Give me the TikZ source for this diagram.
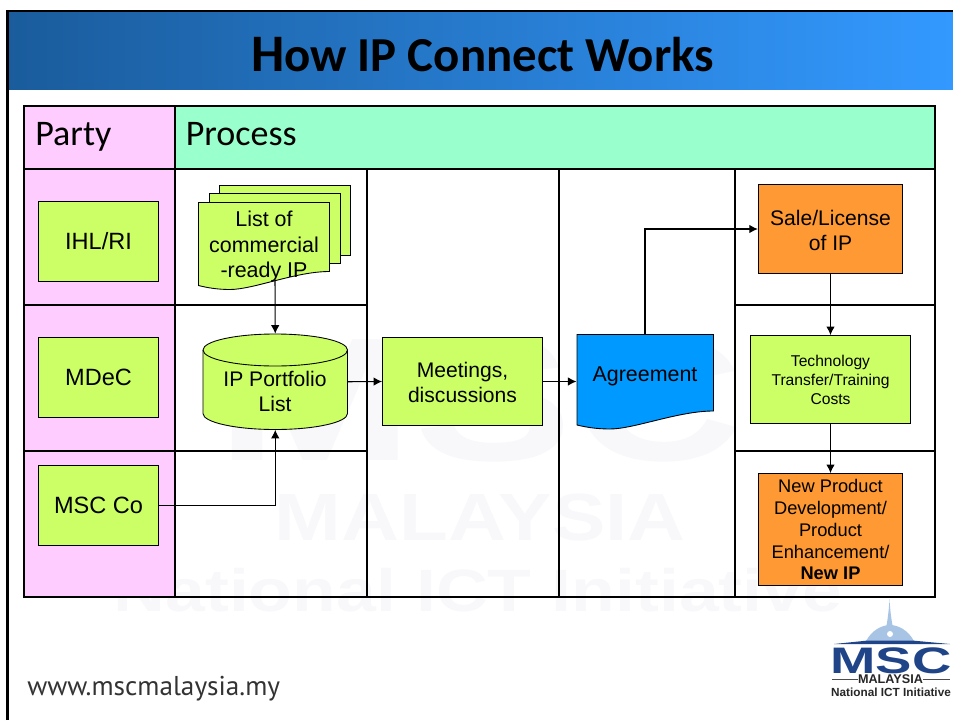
\documentclass[tikz,border=0pt]{standalone}
\usepackage{fontspec}
\setmainfont{Liberation Sans}
\newfontfamily\titlefont{Carlito}
\newfontfamily\urlfont{PT Sans}
\usetikzlibrary{arrows.meta}
\definecolor{limebox}{HTML}{CCFF66}
\definecolor{orangebox}{HTML}{FF9933}
\definecolor{bluebox}{HTML}{0099FF}
\definecolor{partypink}{HTML}{FFCCFF}
\definecolor{processgreen}{HTML}{99FFCC}
\definecolor{barleft}{HTML}{1A5C9C}
\definecolor{barright}{HTML}{3399FF}
\definecolor{logoblue}{HTML}{1F4488}
\definecolor{logosky}{HTML}{A8C4E4}
\definecolor{faintmark}{HTML}{F8F8FB}
\newcommand{\fsz}[2]{\fontsize{#1}{#2}\selectfont}
\newcommand{\wavybox}[5]{% left, top, right, right end y, fill
  \draw[line width=0.5pt,fill=#5] (#1,#2) -- (#3,#2) -- (#3,#4)
    .. controls ({#3-0.26*(#3-#1)},#4) and ({#1+0.42*(#3-#1)},{#4+18}) .. ({#1+0.24*(#3-#1)},{#4+18})
    .. controls ({#1+0.14*(#3-#1)},{#4+18}) and ({#1+0.06*(#3-#1)},{#4+16}) .. (#1,{#4+14}) -- cycle;}
\tikzset{
  gridline/.style={line width=1.6pt},
  flow/.style={line width=0.6pt,-{Latex[length=0.17cm,width=0.17cm]}},
  box/.style={rectangle,draw=black,line width=0.5pt,inner sep=0,align=center,font=\fsz{12}{14.2}},
  limefill/.style={box,fill=limebox},
  orangefill/.style={box,fill=orangebox},
  partybox/.style={limefill,minimum width=2.41cm,minimum height=1.61cm,font=\fsz{13.4}{16}},
  doctext/.style={rectangle,inner sep=0,align=center,font=\fsz{12.2}{14.6}},
  plaintext/.style={inner sep=0,align=center,font=\fsz{12}{14.2}},
  headtext/.style={anchor=base west,inner sep=0,font=\titlefont\fsz{20.5}{24}}
}
\begin{document}
\begin{tikzpicture}[x=0.02cm,y=-0.02cm]
\useasboundingbox (0,0) rectangle (953,720);

% watermark
\node[text=faintmark,inner sep=0,font=\bfseries\fsz{100}{100},xscale=1.35] (markmsc) at (480,400) {MSC};
\node[text=faintmark,inner sep=0,font=\bfseries\fsz{38}{40},xscale=1.2] (markmalaysia) at (480,518) {MALAYSIA};
\node[text=faintmark,inner sep=0,font=\bfseries\fsz{34}{36},xscale=1.2] (markict) at (478,590) {National ICT Initiative};

% slide frame and title bar
\fill[left color=barleft,right color=barright] (8,11) rectangle (953,89);
\draw[line width=1.6pt] (7.5,720) -- (7.5,11) -- (953,11);
\node[anchor=base,inner sep=0,font=\titlefont\bfseries] (title) at (482.5,71.7)
  {\fsz{30}{34}H\fsz{27.8}{34}ow IP Connect Works};

% table
\fill[partypink] (24,106) rectangle (175,597);
\fill[processgreen] (175,106) rectangle (935,169);
\draw[gridline] (24,106) rectangle (935,597);
\draw[gridline] (24,169) -- (935,169);
\draw[gridline] (175,106) -- (175,597);
\draw[gridline] (367,169) -- (367,597);
\draw[gridline] (559,169) -- (559,597);
\draw[gridline] (735,169) -- (735,597);
\draw[gridline] (24,305) -- (367,305);
\draw[gridline] (24,451) -- (367,451);
\draw[gridline] (735,305) -- (935,305);
\draw[gridline] (735,451) -- (935,451);
\node[headtext] (party) at (35,145.5) {Party};
\node[headtext] (process) at (185.5,145.5) {Process};

% parties
\node[partybox] (ihl) at (98.5,241.3) {IHL/RI};
\node[partybox] (mdec) at (98.5,377.3) {MDeC};
\node[partybox] (msc) at (98.5,505.3) {MSC Co};

% list of commercial ready ip, three sheets
\draw[line width=0.5pt,fill=limebox] (219,185) rectangle (350.5,255);
\draw[line width=0.5pt,fill=limebox] (209,193.5) rectangle (340,263.5);
\wavybox{198.5}{202.5}{329.5}{271.5}{limebox}
\node[doctext,minimum width=2.62cm,minimum height=1.68cm] (list) at (264,246.7) {List of\\commercial\\-ready IP};
\coordinate (listout) at (275,281);

% portfolio drum
\draw[line width=0.5pt,fill=limebox] (203,350) -- (203,413.5)
  arc[start angle=180,end angle=0,x radius=72.25,y radius=16] -- (347.5,350)
  arc[start angle=0,end angle=-180,x radius=72.25,y radius=16] -- cycle;
\draw[line width=0.5pt] (203,350) arc[start angle=180,end angle=0,x radius=72.25,y radius=16];
\node[rectangle,inner sep=0,minimum width=2.89cm,minimum height=1.91cm] (cyl) at (275.25,381.75) {};
\node[plaintext] (cyltext) at (275,391) {IP Portfolio\\List};

\node[limefill,minimum width=3.2cm,minimum height=1.77cm] (meet) at (462.5,381.5) {};
\node[plaintext] (meettext) at (462.5,382.5) {Meetings,\\discussions};

\wavybox{577}{334.5}{713.5}{411}{bluebox}
\node[doctext,minimum width=2.73cm,minimum height=1.6cm] (agr) at (645,376) {Agreement};

\node[orangefill,minimum width=2.89cm,minimum height=1.77cm] (sale) at (830.5,229) {};
\node[plaintext] (saletext) at (830.5,230) {Sale/License\\of IP};
\node[limefill,minimum width=3.21cm,minimum height=1.76cm,font=\fsz{8.9}{10.8}] (tech) at (830.5,379.5) {Technology\\Transfer/Training\\Costs};
\node[orangefill,minimum width=2.89cm,minimum height=2.24cm,font=\fsz{10.4}{12.5}] (newip) at (830.5,529.5) {New Product\\Development/\\Product\\Enhancement/\\\textbf{New IP}};

% arrows
\draw[flow] (listout) -- (cyl.north);
\draw[flow] (msc.east) -| (cyl.south);
\draw[flow] (cyl.east) -- (meet.west);
\draw[flow] (meet.east) -- (meet.east -| agr.west);
\draw[flow] (agr.north |- 0,334.5) |- (sale.west);
\draw[flow] (sale.south) -- (tech.north);
\draw[flow] (tech.south) -- (newip.north);

% footer
\node[anchor=base west,inner sep=0,text=black!80,font=\urlfont\fsz{15.5}{18}] (url) at (27,695) {www.mscmalaysia.my};

% logo
\fill[logosky] (886,628) .. controls (888,618) and (889,608) .. (889.5,599) .. controls (890,608) and (891,618) .. (893,628) -- cycle;
\fill[logosky] (866,641) .. controls (872,630) and (882,625) .. (890,625) .. controls (898,625) and (908,630) .. (914,641) -- cycle;
\fill[white] (890,634) circle (3);
\fill[logoblue] (834,644) -- (868,640.5) -- (912,640.5) -- (950,644) -- cycle;
\node[inner sep=0,text=logoblue,font=\bfseries\fsz{20}{20},xscale=1.55,yscale=1.05] (logomsc) at (891,660.5) {MSC};
\node[inner sep=0,text=black!85,font=\bfseries\fsz{7.2}{8}] (logomalaysia) at (890.5,679) {MALAYSIA};
\node[inner sep=0,text=black!85,font=\bfseries\fsz{6.7}{8}] (logoict) at (891,692) {National ICT Initiative};
\draw[black!70,line width=0.4pt] (832,679) -- (logomalaysia.west);
\draw[black!70,line width=0.4pt] (logomalaysia.east) -- (950,679);
\end{tikzpicture}
\end{document}
